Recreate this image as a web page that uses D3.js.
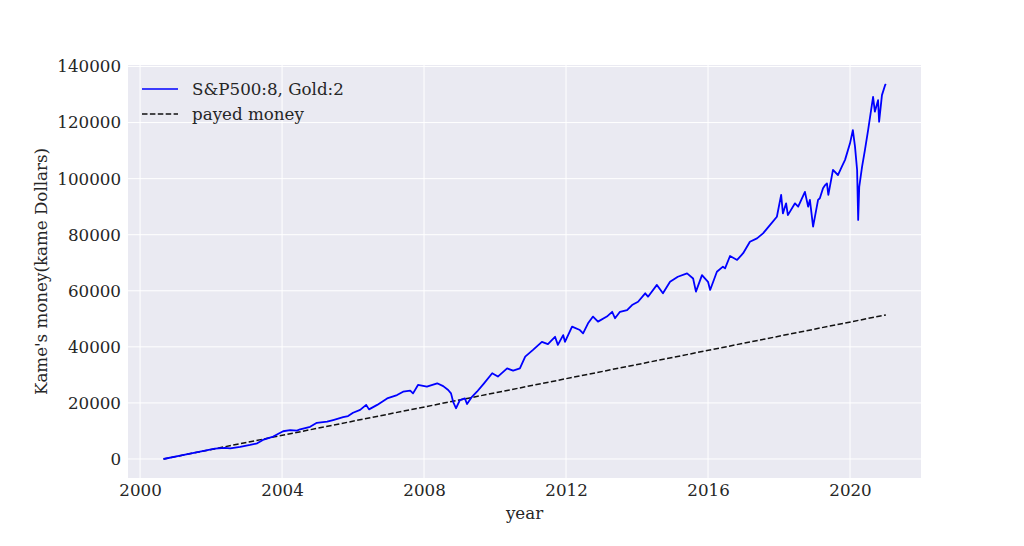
<!DOCTYPE html>
<html>
<head>
<meta charset="utf-8">
<script src="https://cdn.jsdelivr.net/npm/d3@7"></script>
<style>
  html, body { margin: 0; padding: 0; background: #fff; }
  svg { display: block; }
  text { font-family: "DejaVu Serif", serif; fill: #262626; }
</style>
</head>
<body>
<svg id="chart" width="1024" height="546"></svg>
<script>
// ---- data (decimal year, value) ----
const portfolioYears = [
  2000.66, 2001.13, 2001.69, 2002.11, 2002.39, 2002.54, 2002.82, 2003.10, 2003.30, 2003.46,
  2003.75, 2004.03, 2004.23, 2004.42, 2004.51, 2004.79, 2004.98, 2005.27, 2005.44, 2005.72,
  2005.86, 2006.00, 2006.20, 2006.37, 2006.45, 2006.68, 2006.96, 2007.24, 2007.41, 2007.61,
  2007.69, 2007.83, 2008.08, 2008.37, 2008.54, 2008.68, 2008.76, 2008.82, 2008.90, 2009.01,
  2009.15, 2009.21, 2009.35, 2009.49, 2009.69, 2009.92, 2010.08, 2010.34, 2010.51, 2010.70,
  2010.85, 2011.07, 2011.32, 2011.49, 2011.69, 2011.77, 2011.92, 2011.97, 2012.17, 2012.39,
  2012.48, 2012.62, 2012.76, 2012.90, 2013.15, 2013.30, 2013.38, 2013.52, 2013.72, 2013.86,
  2014.03, 2014.23, 2014.31, 2014.56, 2014.73, 2014.93, 2015.15, 2015.41, 2015.58, 2015.66,
  2015.83, 2016.00, 2016.06, 2016.25, 2016.42, 2016.48, 2016.62, 2016.82, 2016.99, 2017.18,
  2017.38, 2017.55, 2017.75, 2017.94, 2018.06, 2018.11, 2018.20, 2018.25, 2018.45, 2018.54,
  2018.73, 2018.82, 2018.87, 2018.96, 2019.10, 2019.15, 2019.24, 2019.30, 2019.35, 2019.39,
  2019.52, 2019.66, 2019.77, 2019.86, 2020.00, 2020.08, 2020.14, 2020.20, 2020.23, 2020.26,
  2020.34, 2020.42, 2020.51, 2020.65, 2020.70, 2020.79, 2020.82, 2020.90, 2020.99, 2021.01
];
const portfolioValues = [
  0, 1200, 2600, 3700, 4000, 3800, 4300, 5000, 5600, 6800,
  8000, 9900, 10300, 10100, 10600, 11500, 12900, 13300, 13900, 14900,
  15300, 16500, 17500, 19300, 17700, 19300, 21600, 22800, 24000, 24400,
  23400, 26400, 25800, 27000, 26000, 24600, 23400, 20400, 18100, 21000,
  21600, 19600, 22200, 24000, 27000, 30600, 29400, 32300, 31500, 32300,
  36500, 38900, 41800, 41000, 43600, 40700, 44200, 41800, 47200, 46000,
  44800, 48400, 50800, 49000, 50800, 52500, 50200, 52500, 53100, 54900,
  56100, 59100, 57900, 62100, 59100, 63200, 65000, 66200, 64400, 59700,
  65600, 63200, 60300, 66800, 68600, 68000, 72400, 71000, 73400, 77500,
  78700, 80500, 83500, 86400, 94200, 87600, 91200, 87000, 91200, 90000,
  95300, 90000, 92400, 82900, 92400, 93000, 96600, 97700, 98300, 94200,
  103100, 101300, 104300, 106700, 112600, 117300, 111500, 103100, 85300, 97100,
  104300, 110200, 117300, 129200, 123900, 128000, 120300, 129800, 133400, 133800
];
const paidYears = [2000.66, 2021.01];
const paidValues = [0, 51400];

const xTicks = [2000, 2004, 2008, 2012, 2016, 2020];
const yTicks = [0, 20000, 40000, 60000, 80000, 100000, 120000, 140000];
const seriesNames = ["S&P500:8, Gold:2", "payed money"];

// ---- layout ----
const svg = d3.select("#chart");
const L = 128, R = 921, T = 65, B = 478;
const FS = 16.7;

const x = d3.scaleLinear().domain([1999.66, 2022.0]).range([L, R]);
const y = d3.scaleLinear().domain([-6780, 140540]).range([B, T]);

svg.append("rect").attr("x", L).attr("y", T).attr("width", R - L).attr("height", B - T)
  .attr("fill", "#EAEAF2");

// grid
const g = svg.append("g");
g.selectAll(".vg").data(xTicks).enter().append("line")
  .attr("x1", d => x(d)).attr("x2", d => x(d)).attr("y1", T).attr("y2", B)
  .attr("stroke", "#fff").attr("stroke-width", 1);
g.selectAll(".hg").data(yTicks).enter().append("line")
  .attr("y1", d => y(d)).attr("y2", d => y(d)).attr("x1", L).attr("x2", R)
  .attr("stroke", "#fff").attr("stroke-width", 1);

// axes (tick labels via d3 axes, no domain lines)
const xAxis = d3.axisBottom(x).tickValues(xTicks).tickFormat(d3.format("d")).tickSize(0).tickPadding(6);
const yAxis = d3.axisLeft(y).tickValues(yTicks).tickFormat(d3.format("d")).tickSize(0).tickPadding(7);
const xa = svg.append("g").attr("transform", `translate(0,${B})`).call(xAxis);
const ya = svg.append("g").attr("transform", `translate(${L},0)`).call(yAxis);
[xa, ya].forEach(a => {
  a.select(".domain").remove();
  a.selectAll("text").attr("font-family", "DejaVu Serif").attr("font-size", FS).attr("fill", "#262626");
});

// lines
const portfolio = portfolioYears.map((t, i) => [t, portfolioValues[i]]);
const paid = paidYears.map((t, i) => [t, paidValues[i]]);
const line = d3.line().x(d => x(d[0])).y(d => y(d[1]));

svg.append("path").datum(paid).attr("d", line)
  .attr("fill", "none").attr("stroke", "#111").attr("stroke-width", 1.5)
  .attr("stroke-dasharray", "5.5,2.4");
svg.append("path").datum(portfolio).attr("d", line)
  .attr("fill", "none").attr("stroke", "#0000ff").attr("stroke-width", 1.8)
  .attr("stroke-linejoin", "round");

// axis labels
svg.append("text").attr("x", (L + R) / 2).attr("y", 519).attr("text-anchor", "middle")
  .attr("font-size", FS).text("year");
svg.append("text").attr("transform", `translate(47,${(T + B) / 2}) rotate(-90)`)
  .attr("text-anchor", "middle").attr("font-size", FS).text("Kame's money(kame Dollars)");

// legend
const leg = svg.append("g");
const styles = [
  { stroke: "#0000ff", dash: null },
  { stroke: "#111", dash: "5.5,2.4" }
];
seriesNames.forEach((name, i) => {
  const yy = 89 + i * 25;
  leg.append("line").attr("x1", 142).attr("x2", 178).attr("y1", yy).attr("y2", yy)
    .attr("stroke", styles[i].stroke).attr("stroke-width", 1.5)
    .attr("stroke-dasharray", styles[i].dash);
  leg.append("text").attr("x", 192).attr("y", yy).attr("dy", "0.35em")
    .attr("font-size", FS).text(name);
});
</script>
</body>
</html>
